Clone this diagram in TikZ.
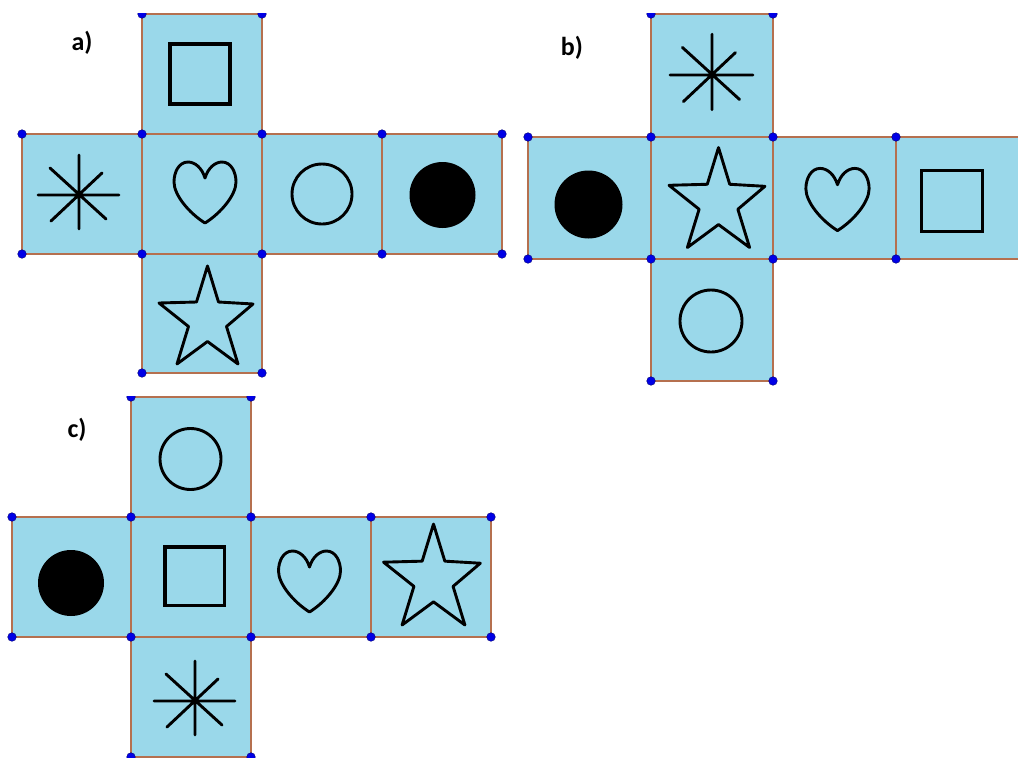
\documentclass[tikz,border=0pt]{standalone}
\usepackage{fontspec}
\setmainfont{Carlito}
\definecolor{facefill}{HTML}{9AD8EA}
\definecolor{edgecol}{HTML}{B5704F}
\definecolor{dotcol}{HTML}{0000E6}
\tikzset{
  face/.style={fill=facefill,draw=edgecol,line width=1.6pt},
  vertexdot/.style={fill=dotcol,draw=black!50!dotcol,line width=0.4pt},
  glyph/.style={draw=black,line width=3.2pt,line join=miter},
  thinglyph/.style={draw=black,line width=2.9pt,line join=round},
  netlabel/.style={font=\fontsize{26}{28}\selectfont\bfseries,inner sep=0pt,anchor=center},
  pics/starshape/.style={code={
    \draw[thinglyph] (0,-47.5) -- (11,-11.5) -- (45.5,-9.5) -- (19,13) -- (30.5,50.5) -- (0,28) -- (-30.5,50.5) -- (-19,13) -- (-48.5,-10.5) -- (-11,-11.5) -- cycle;}},
  pics/heartshape/.style={code={
    \draw[thinglyph] (0,-14) .. controls (3,-24) and (10,-30) .. (17,-30) .. controls (26,-30) and (31,-20) .. (31,-10) .. controls (31,3) and (16,21) .. (0,31) .. controls (-16,21) and (-31,3) .. (-31,-10) .. controls (-31,-20) and (-26,-30) .. (-17,-30) .. controls (-10,-30) and (-3,-24) .. (0,-14) -- cycle;}},
  pics/asteriskshape/.style={code={
    \draw[thinglyph,line cap=round] (-41,0) -- (40,0) (0,-40) -- (0,34) (-29,-27) -- (27,24) (-28,26) -- (23,-22);}},
}
\begin{document}
\begin{tikzpicture}[x=1pt,y=-1pt]
\useasboundingbox (0,0) rectangle (1018,758);
\fill[white] (0,0) rectangle (1018,758);
% net a
\begin{scope}
\clip (0,13) rectangle (1018,758);
\foreach \xa/\xb/\ya/\yb in {142/262/14/134, 22/142/134/254, 142/262/134/254, 262/382/134/254, 382/502/134/254, 142/262/254/373}
  \path[face] (\xa,\ya) rectangle (\xb,\yb);
\foreach \px/\py in {142/14,262/14,22/134,142/134,262/134,382/134,502/134,22/254,142/254,262/254,382/254,502/254,142/373,262/373}
  \path[vertexdot] (\px,\py) circle[radius=4.3];
\end{scope}
% net b
\begin{scope}
\clip (0,13) rectangle (1018,758);
\foreach \xa/\xb/\ya/\yb in {651/773/14/137, 528/651/137/259, 651/773/137/259, 773/896/137/259, 896/1019/137/259, 651/773/259/381}
  \path[face] (\xa,\ya) rectangle (\xb,\yb);
\foreach \px/\py in {651/14,773/14,528/137,651/137,773/137,896/137,528/259,651/259,773/259,896/259,651/381,773/381}
  \path[vertexdot] (\px,\py) circle[radius=4.3];
\end{scope}
% net c
\begin{scope}
\clip (0,396) rectangle (1018,758);
\foreach \xa/\xb/\ya/\yb in {131/251/397/517, 12/131/517/637, 131/251/517/637, 251/371/517/637, 371/491/517/637, 131/251/637/757}
  \path[face] (\xa,\ya) rectangle (\xb,\yb);
\foreach \px/\py in {131/397,251/397,12/517,131/517,251/517,371/517,491/517,12/637,131/637,251/637,371/637,491/637,131/757,251/757}
  \path[vertexdot] (\px,\py) circle[radius=4.3];
\end{scope}
% glyphs a
\draw[glyph] (170,44) rectangle (230,104);
\pic at (79,195) {asteriskshape};
\pic at (205,192) {heartshape};
\draw[thinglyph] (322,194) circle[radius=30];
\fill[black] (442.5,195) circle[radius=33];
\pic at (207.5,313.5) {starshape};
% glyphs b
\pic[scale=1.02] at (712,75) {asteriskshape};
\pic[scale=1.02] at (718.5,196) {starshape};
\fill[black] (588.5,204.5) circle[radius=34];
\pic[scale=1.02] at (837.5,199) {heartshape};
\draw[glyph] (921.5,170.5) rectangle (982.5,231.5);
\draw[thinglyph] (711,321) circle[radius=31];
% glyphs c
\draw[thinglyph] (190.5,459) circle[radius=30.5];
\fill[black] (71,583) circle[radius=33];
\draw[glyph] (165,547) rectangle (224.5,605.5);
\pic at (309.5,581) {heartshape};
\pic[scale=1.03] at (433.5,573) {starshape};
\pic at (195,701) {asteriskshape};
% labels
\node[netlabel] (la) at (82,43) {a)};
\node[netlabel] (lb) at (572,48) {b)};
\node[netlabel] (lc) at (77,430) {c)};
\end{tikzpicture}
\end{document}
